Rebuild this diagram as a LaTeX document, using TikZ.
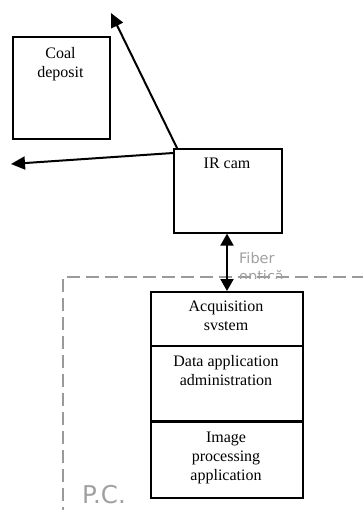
\documentclass[tikz,border=0pt]{standalone}
\usepackage{fontspec}
\setmainfont{Liberation Serif}
\newfontfamily\labelsans{DejaVu Sans}
\usetikzlibrary{arrows.meta}
\definecolor{dashgray}{HTML}{9A9A9A}
\definecolor{textgray}{HTML}{A0A0A0}
\tikzset{
  box/.style={draw=black, line width=1.6pt, rectangle, inner sep=0pt, anchor=north west},
  boxtext/.style={align=center, font=\fontsize{16}{19}\selectfont, inner sep=0pt, anchor=north},
  ray/.style={line width=2pt, -{Triangle[length=14pt,width=13pt]}},
  link/.style={line width=2pt, {Triangle[length=12pt,width=13pt]}-{Triangle[length=12pt,width=13pt]}},
  pcframe/.style={draw=dashgray, line width=1.8pt, dash pattern=on 13pt off 6pt},
  graytext/.style={text=textgray, inner sep=0pt},
}
\begin{document}
\begin{tikzpicture}[x=1pt,y=-1pt]
\useasboundingbox (0,0) rectangle (363,510);
% P.C. dashed frame
\draw[pcframe] (63,520) -- (63,277) -- (370,277);
% coal deposit
\node[box, minimum width=97pt, minimum height=102pt] (coal) at (12,36) {};
\node[boxtext] (coaltxt) at (60.5,47) {Coal\\deposit};
% IR camera
\node[box, minimum width=108pt, minimum height=84pt] (cam) at (173,148) {};
\node[boxtext] (camtxt) at (227,158) {IR cam};
% rays
\coordinate (up) at (111,13);
\coordinate (left) at (11,164);
\draw[ray] ([xshift=4pt]cam.north west) -- (up);
\draw[ray] ([yshift=-5pt]cam.north west) -- (left);
% PC stack
\node[box, minimum width=152pt, minimum height=54pt] (acq) at (150,291) {};
\node[box, minimum width=152pt, minimum height=76pt] (dat) at (150,345) {};
\node[box, minimum width=152pt, minimum height=76pt] (img) at (150,421) {};
\draw[line width=1.2pt] (img.north west) -- (img.north east);
\node[boxtext] (acqtxt) at (226,301) {Acquisition\\svstem};
\node[boxtext] (dattxt) at (226,355) {Data application\\administration};
\node[boxtext] (imgtxt) at (226,432) {Image\\processing\\application};
% fiber link
\draw[link] (cam.south -| 227,0) -- (acq.north -| 227,0);
\node[graytext, font=\labelsans\fontsize{14.5}{17}\selectfont, anchor=base west] (fiber) at (239,263) {Fiber};
\begin{scope}
\clip (230,262) rectangle (300,278.5);
\node[graytext, font=\labelsans\fontsize{14.5}{17}\selectfont, anchor=base west] (optica) at (239,281) {optică};
\end{scope}
\node[graytext, font=\labelsans\fontsize{24.5}{28}\selectfont, anchor=base west] (pc) at (82,503) {P.C.};
\end{tikzpicture}
\end{document}
